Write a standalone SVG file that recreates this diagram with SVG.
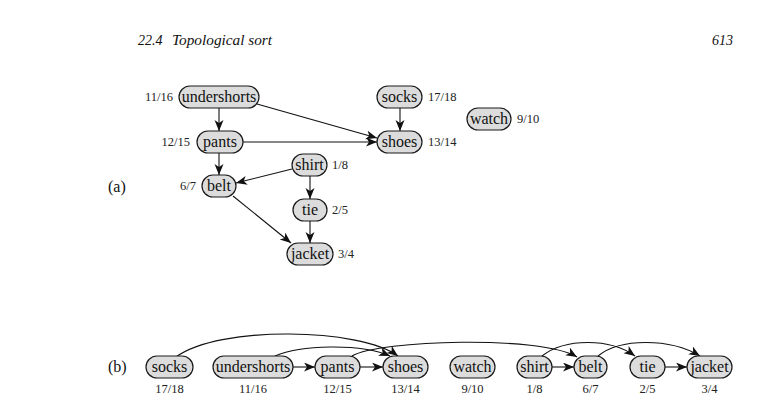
<svg xmlns="http://www.w3.org/2000/svg" width="781" height="401" viewBox="0 0 781 401">
<style>
.n rect{fill:#dcdcdc;stroke:#1a1a1a;stroke-width:1.2}
.n text{font-family:"Liberation Serif","Times New Roman",serif;font-size:16px;fill:#111;text-anchor:middle}
.num{font-family:"Liberation Serif","Times New Roman",serif;font-size:12.5px;fill:#222}
.hd{font-family:"Liberation Serif","Times New Roman",serif;font-size:14px;font-style:italic;fill:#111}
.lb{font-family:"Liberation Serif","Times New Roman",serif;font-size:16px;fill:#111}
#edges path{fill:none;stroke:#111;stroke-width:1.1;marker-end:url(#ah)}
</style>
<defs>
<marker id="ah" markerUnits="userSpaceOnUse" markerWidth="12" markerHeight="10" refX="11" refY="4.5" orient="auto">
<path d="M0,0 L11,4.5 L0,9 L3,4.5 z" fill="#111"/>
</marker>
</defs>
<rect width="781" height="401" fill="#fff"/>
<text class="hd" x="138" y="45">22.4</text>
<text class="hd" x="172" y="45" textLength="100" lengthAdjust="spacingAndGlyphs">Topological sort</text>
<text class="hd" x="733" y="45" text-anchor="end">613</text>
<text class="lb" x="108" y="192">(a)</text>
<text class="lb" x="108" y="372">(b)</text>

<g id="edges">
<path d="M219,108 L219,131"/>
<path d="M257,104 L377,138"/>
<path d="M243,142 L377,142"/>
<path d="M400,108 L400,131"/>
<path d="M219,153 L219,175"/>
<path d="M292,169 L236,183"/>
<path d="M310,176 L310,199"/>
<path d="M310,221 L310,243"/>
<path d="M233,196 L291,243"/>
<path d="M293,367 L315,367"/>
<path d="M360,367 L383,367"/>
<path d="M552,367 L574,367"/>
<path d="M665,367 L687,367"/>
<path d="M176,357 C220,325 360,328 398,356"/>
<path d="M275,356 C300,345 360,343 390,356"/>
<path d="M352,356 C380,340 540,335 577,357"/>
<path d="M542,356 C565,338 610,338 635,356"/>
<path d="M598,356 C620,338 670,338 700,356"/>
</g>

<g id="a-undershorts" class="n"><rect x="179" y="86" width="80" height="22" rx="11"/><text x="219" y="102">undershorts</text></g>
<g id="a-pants" class="n"><rect x="197" y="131" width="46" height="22" rx="11"/><text x="220" y="147">pants</text></g>
<g id="a-belt" class="n"><rect x="202" y="175" width="34" height="22" rx="11"/><text x="219" y="191">belt</text></g>
<g id="a-shirt" class="n"><rect x="292" y="154" width="35" height="22" rx="11"/><text x="309.5" y="170">shirt</text></g>
<g id="a-tie" class="n"><rect x="293" y="199" width="34" height="22" rx="11"/><text x="310" y="215">tie</text></g>
<g id="a-jacket" class="n"><rect x="287" y="243" width="46" height="22" rx="11"/><text x="310" y="259">jacket</text></g>
<g id="a-socks" class="n"><rect x="377" y="86" width="45" height="22" rx="11"/><text x="399.5" y="102">socks</text></g>
<g id="a-shoes" class="n"><rect x="377" y="131" width="45" height="22" rx="11"/><text x="399.5" y="147">shoes</text></g>
<g id="a-watch" class="n"><rect x="467" y="108" width="44" height="22" rx="11"/><text x="489" y="124">watch</text></g>

<g id="a-labels">
<text class="num" x="173" y="101" text-anchor="end">11/16</text>
<text class="num" x="190" y="146" text-anchor="end">12/15</text>
<text class="num" x="196" y="190" text-anchor="end">6/7</text>
<text class="num" x="332" y="169">1/8</text>
<text class="num" x="332" y="214">2/5</text>
<text class="num" x="338" y="258">3/4</text>
<text class="num" x="428" y="101">17/18</text>
<text class="num" x="428" y="146">13/14</text>
<text class="num" x="517" y="123">9/10</text>
</g>

<g id="b-socks" class="n"><rect x="146" y="356" width="47" height="22" rx="11"/><text x="169.5" y="372">socks</text></g>
<g id="b-undershorts" class="n"><rect x="213" y="356" width="80" height="22" rx="11"/><text x="253" y="372">undershorts</text></g>
<g id="b-pants" class="n"><rect x="315" y="356" width="45" height="22" rx="11"/><text x="337.5" y="372">pants</text></g>
<g id="b-shoes" class="n"><rect x="383" y="356" width="45" height="22" rx="11"/><text x="405.5" y="372">shoes</text></g>
<g id="b-watch" class="n"><rect x="450" y="356" width="45" height="22" rx="11"/><text x="472.5" y="372">watch</text></g>
<g id="b-shirt" class="n"><rect x="517" y="356" width="35" height="22" rx="11"/><text x="534.5" y="372">shirt</text></g>
<g id="b-belt" class="n"><rect x="574" y="356" width="33" height="22" rx="11"/><text x="590.5" y="372">belt</text></g>
<g id="b-tie" class="n"><rect x="630" y="356" width="35" height="22" rx="11"/><text x="647.5" y="372">tie</text></g>
<g id="b-jacket" class="n"><rect x="687" y="356" width="45" height="22" rx="11"/><text x="709.5" y="372">jacket</text></g>

<g id="b-labels" text-anchor="middle">
<text class="num" x="169.5" y="393">17/18</text>
<text class="num" x="253" y="393">11/16</text>
<text class="num" x="337.5" y="393">12/15</text>
<text class="num" x="405.5" y="393">13/14</text>
<text class="num" x="472.5" y="393">9/10</text>
<text class="num" x="534.5" y="393">1/8</text>
<text class="num" x="590.5" y="393">6/7</text>
<text class="num" x="647.5" y="393">2/5</text>
<text class="num" x="709.5" y="393">3/4</text>
</g>
</svg>
